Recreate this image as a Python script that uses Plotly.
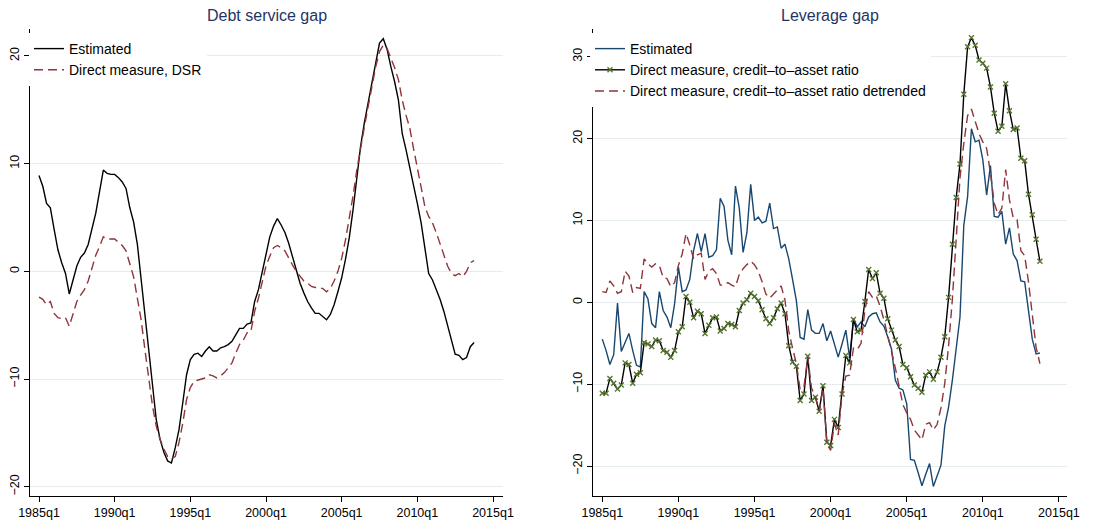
import plotly.graph_objects as go

# ---------------- data ----------------
start_year, n_quarters = 1985, 116
quarters = [f"{start_year + i // 4}q{i % 4 + 1}" for i in range(n_quarters)]
xq = [start_year + i / 4 for i in range(n_quarters)]

# Debt service gap (left panel)
dsg_estimated = [
    8.9, 7.9, 6.3, 5.9, 3.9, 2.0, 0.8, -0.2, -2.1, -0.8, 0.5, 1.3, 1.7, 2.5, 3.9, 5.4,
    7.4, 9.4, 9.1, 9.0, 9.0, 8.7, 8.3, 7.7, 5.9, 4.6, 2.5, -0.8, -4.2, -7.6, -11.0, -13.8,
    -15.6, -16.8, -17.6, -17.8, -16.4, -14.7, -12.2, -9.6, -8.2, -7.7, -7.6, -7.9, -7.4, -7.0, -7.4, -7.4,
    -7.1, -7.0, -6.8, -6.5, -5.9, -5.3, -5.3, -4.9, -4.8, -2.8, -1.7, 0.0,
    1.7, 3.2, 4.2, 4.9, 4.3, 3.6, 2.6, 1.4, 0.2, -1.1, -2.0, -2.8, -3.4, -3.9, -3.9, -4.2,
    -4.5, -4.0, -3.1, -1.9, -0.6, 1.1, 3.1, 5.7, 8.8, 11.6, 13.8, 15.6, 17.5, 19.5, 21.2, 21.6,
    20.6, 19.0, 17.6, 15.9, 12.8, 11.3, 9.7, 8.0, 6.3, 4.5, 2.2, -0.2, -0.8, -1.7, -2.6, -3.7,
    -5.1, -6.3, -7.7, -7.8, -8.2, -8.0, -7.0, -6.6,
]
dsg_direct_dsr = [
    -2.4, -2.6, -3.1, -2.8, -3.9, -4.3, -4.4, -4.3, -5.1, -4.0, -2.8, -2.2, -1.7, -0.9, 0.3, 1.5,
    2.3, 3.2, 3.0, 3.0, 3.0, 2.7, 2.4, 1.9, 0.8, -0.5, -2.5, -4.5, -7.3, -10.0, -12.5, -14.4,
    -15.6, -16.5, -17.2, -17.4, -17.2, -15.9, -14.1, -11.9, -10.8, -10.2, -10.1, -10.0, -9.9, -9.6, -9.7, -9.9,
    -9.7, -9.4, -9.0, -8.5, -7.6, -6.8, -6.4, -5.7, -5.6, -3.7, -2.5, -1.1,
    0.5, 1.4, 2.2, 2.4, 2.2, 1.9, 1.2, 0.6, 0.0, -0.5, -0.9, -1.1, -1.4, -1.5, -1.5, -1.6,
    -1.9, -1.6, -0.9, 0.0, 1.2, 2.9, 4.8, 7.0, 9.4, 11.6, 13.4, 15.3, 17.2, 19.0, 20.4, 21.0,
    20.7, 19.8, 18.9, 17.8, 15.9, 14.5, 13.3, 11.4, 9.6, 7.6, 6.0, 5.1, 4.5, 3.6, 2.5, 1.4,
    0.5, -0.2, -0.4, -0.2, -0.5, 0.0, 0.8, 1.0,
]

# Leverage gap (right panel)
lev_estimated = [
    -4.5, -5.9, -7.6, -6.4, -0.1, -6.0, -4.9, -3.8, -5.9, -7.7, -7.9, 1.3, 0.4, -2.6, -3.1, 1.3,
    -1.0, -1.8, -3.1, -0.2, 4.3, 1.3, 1.5, 2.8, 6.3, 8.4, 6.2, 8.4, 5.5, 5.7, 6.4, 12.7,
    11.7, 7.6, 5.8, 14.2, 11.5, 6.1, 8.5, 14.4, 10.0, 10.4, 9.7, 9.9, 12.1, 9.0, 9.2, 6.6,
    7.1, 5.3, 2.8, 0.2, -4.3, -4.5, -0.9, -3.4, -3.8, -3.8, -2.6, -4.7, -3.5, -5.2, -6.7, -5.1,
    -3.4, -6.8, -2.0, -3.0, -2.4, -3.0, -1.8, -1.4, -1.3, -2.4, -2.9, -4.2, -5.7, -9.5, -10.5, -10.7,
    -12.4, -19.2, -19.3, -20.8, -22.4, -21.0, -19.7, -22.5, -21.1, -19.9, -15.1, -12.8, -9.5, -5.8, -1.8, 9.4,
    12.9, 21.2, 19.6, 19.8, 17.4, 13.1, 16.7, 10.5, 10.4, 11.1, 7.1, 9.1, 5.9, 5.1, 2.6, 2.5,
    -0.8, -4.5, -6.3, -6.2,
]
lev_direct_ratio = [
    -11.1, -11.1, -9.3, -9.9, -10.6, -10.1, -7.4, -7.6, -9.9, -8.8, -8.6, -4.9, -5.1, -5.4, -4.6, -4.7,
    -5.9, -6.1, -6.7, -5.9, -3.6, -3.0, 0.7, 0.0, -1.9, -1.1, -1.4, -3.8, -2.8, -1.9, -1.8, -3.5,
    -3.2, -2.6, -2.7, -3.0, -1.0, -0.1, 0.3, 1.1, 0.7, 0.2, -0.9, -2.0, -2.6, -1.9, -0.8, -0.1,
    -1.4, -5.3, -7.3, -7.8, -12.0, -11.2, -6.6, -12.0, -11.6, -13.3, -10.2, -17.1, -17.5, -14.3, -15.3, -11.2,
    -6.5, -7.4, -2.1, -3.6, -3.4, 0.1, 4.0, 2.9, 3.6, 1.1, 0.5, -2.0, -3.4, -4.6, -5.4, -7.6,
    -8.0, -9.1, -10.1, -10.5, -11.0, -8.9, -8.5, -9.4, -8.5, -6.7, -4.2, 0.6, 7.1, 12.8, 16.9, 25.4,
    31.2, 32.3, 31.4, 29.6, 29.2, 28.6, 26.3, 23.1, 20.9, 21.5, 26.7, 23.4, 21.1, 21.3, 17.6, 17.3,
    13.2, 10.7, 7.7, 5.0,
]
lev_direct_detrended = [
    1.3, 1.2, 2.6, 2.0, 1.1, 1.3, 3.8, 3.2, 1.2, 1.8, 1.7, 5.3, 4.7, 4.3, 4.7, 4.5,
    3.0, 2.9, 1.9, 2.4, 4.5, 5.9, 8.4, 7.0, 5.3, 5.8, 6.0, 2.8, 3.8, 4.1, 3.5, 2.1,
    2.1, 2.4, 2.1, 1.9, 3.4, 4.1, 4.6, 5.0, 4.6, 3.8, 2.5, 1.0, 0.5, 1.0, 1.6, 2.0,
    0.3, -3.5, -5.6, -7.5, -10.7, -10.3, -6.7, -10.5, -11.5, -13.3, -10.5, -17.0, -18.1, -14.8, -16.2, -11.3,
    -9.0, -8.9, -5.6, -5.8, -5.0, -1.0, 1.3, 0.6, 0.8, -0.5, -2.1, -3.9, -6.0, -8.0, -10.1, -12.5,
    -13.5, -14.3, -15.6, -16.2, -16.8, -14.9, -14.7, -15.6, -14.9, -12.9, -9.9, -5.3, 0.4, 7.7, 15.2, 19.4,
    22.8, 23.6, 22.2, 20.6, 19.6, 18.8, 15.8, 12.1, 10.7, 11.5, 16.2, 12.5, 10.3, 10.1, 6.3, 5.7,
    2.5, -1.5, -5.5, -7.5,
]

x_tick_vals = [1985, 1990, 1995, 2000, 2005, 2010, 2015]
x_tick_text = ["1985q1", "1990q1", "1995q1", "2000q1", "2005q1", "2010q1", "2015q1"]
left_y_ticks = [-20, -10, 0, 10, 20]
right_y_ticks = [-20, -10, 0, 10, 20, 30]

# ---------------- styling ----------------
# the html page body has an 8px default margin, so the figure is made 8px smaller
# and every page-pixel position is shifted by that offset
OFF = 8
W, H = 1118 - OFF, 527 - OFF
BLUE = "#1a476f"
MAROON = "#90353b"
GREEN = "#55752f"
TITLE_C = "#1f3564"
GRID = "#e4ecee"
FONT = "Liberation Sans, Arial, sans-serif"

fig = go.Figure()

fig.add_trace(go.Scatter(x=xq, y=dsg_estimated, mode="lines", name="Estimated",
                         line=dict(color="black", width=1.4), xaxis="x", yaxis="y",
                         legend="legend"))
fig.add_trace(go.Scatter(x=xq, y=dsg_direct_dsr, mode="lines", name="Direct measure, DSR",
                         line=dict(color=MAROON, width=1.4, dash="9px,5px"), xaxis="x", yaxis="y",
                         legend="legend"))

fig.add_trace(go.Scatter(x=xq, y=lev_estimated, mode="lines", name="Estimated",
                         line=dict(color=BLUE, width=1.4), xaxis="x2", yaxis="y2",
                         legend="legend2"))
fig.add_trace(go.Scatter(x=xq, y=lev_direct_ratio, mode="lines+markers",
                         name="Direct measure, credit\u2013to\u2013asset ratio",
                         line=dict(color="black", width=1.4),
                         marker=dict(symbol="x-thin", size=5, color=GREEN,
                                     line=dict(width=1.4, color=GREEN)),
                         xaxis="x2", yaxis="y2", legend="legend2"))
fig.add_trace(go.Scatter(x=xq, y=lev_direct_detrended, mode="lines",
                         name="Direct measure, credit\u2013to\u2013asset ratio detrended",
                         line=dict(color=MAROON, width=1.4, dash="9px,5px"), xaxis="x2", yaxis="y2",
                         legend="legend2"))

def px_x(p):
    return (p - OFF) / W

def px_y(p):
    return 1 - (p - OFF) / H

axis_common = dict(showline=True, linecolor="black", linewidth=1, ticks="outside",
                   ticklen=5, tickcolor="black", tickwidth=1, zeroline=False,
                   tickfont=dict(family=FONT, size=12.5, color="black"), automargin=False)

fig.update_layout(
    width=W, height=H,
    margin=dict(l=0, r=0, t=0, b=0),
    paper_bgcolor="white", plot_bgcolor="white",
    font=dict(family=FONT, color="black"),
    xaxis=dict(domain=[px_x(30), px_x(503)], range=[1984.405, 2015.66],
               tickvals=x_tick_vals, ticktext=x_tick_text, showgrid=False, anchor="y",
               **axis_common),
    yaxis=dict(domain=[px_y(496), px_y(29)], range=[-20.86, 22.5],
               tickvals=left_y_ticks, tickangle=-90, showgrid=True, gridcolor=GRID,
               gridwidth=1, anchor="x", **axis_common),
    xaxis2=dict(domain=[px_x(593), px_x(1067)], range=[1984.39, 2015.53],
                tickvals=x_tick_vals, ticktext=x_tick_text, showgrid=False, anchor="y2",
                **axis_common),
    yaxis2=dict(domain=[px_y(496), px_y(29)], range=[-23.66, 33.38],
                tickvals=right_y_ticks, tickangle=-90, showgrid=True, gridcolor=GRID,
                gridwidth=1, anchor="x2", **axis_common),
    legend=dict(x=px_x(29), y=px_y(33), xanchor="left", yanchor="top",
                bgcolor="white", borderwidth=0,
                font=dict(family=FONT, size=14, color="black"), tracegroupgap=0),
    legend2=dict(x=px_x(590), y=px_y(33), xanchor="left", yanchor="top",
                 bgcolor="white", borderwidth=0,
                 font=dict(family=FONT, size=14, color="black"), tracegroupgap=0),
    showlegend=True,
    annotations=[
        dict(text="Debt service gap", x=px_x(266.5), y=px_y(15), xref="paper", yref="paper",
             showarrow=False, font=dict(family=FONT, size=16, color=TITLE_C),
             xanchor="center", yanchor="middle"),
        dict(text="Leverage gap", x=px_x(830), y=px_y(15), xref="paper", yref="paper",
             showarrow=False, font=dict(family=FONT, size=16, color=TITLE_C),
             xanchor="center", yanchor="middle"),
    ],
)

fig.write_html("out.html")
